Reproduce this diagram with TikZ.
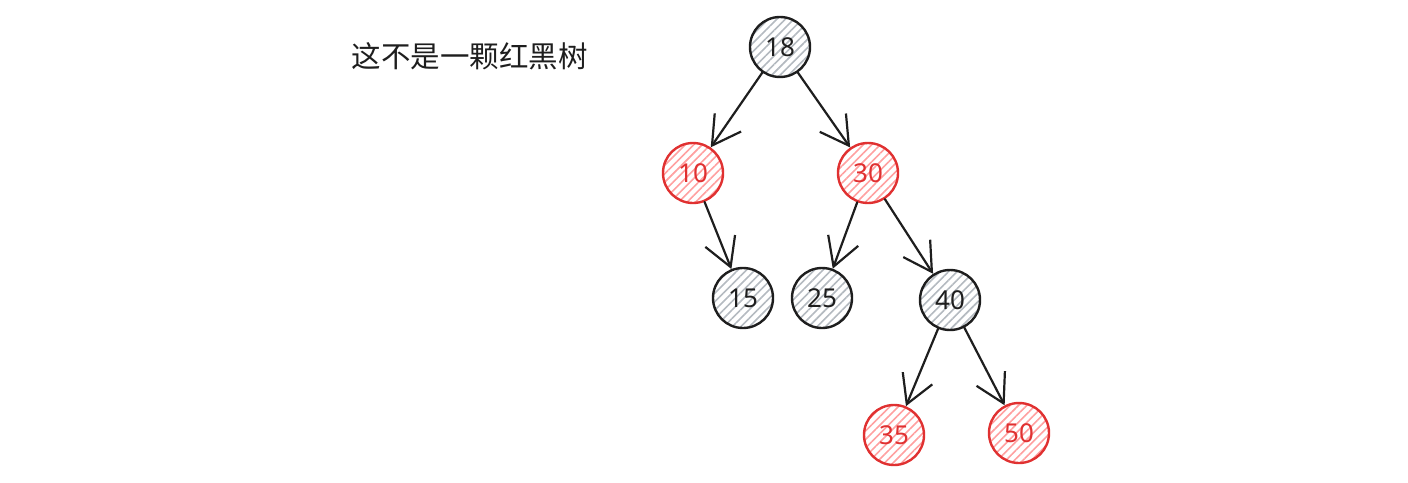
\documentclass[tikz,border=0pt]{standalone}
\usepackage{fontspec}
\setmainfont{Noto Sans}
\newfontfamily\cjk{Noto Sans CJK SC}
\usetikzlibrary{arrows.meta, patterns.meta}
\definecolor{inkblack}{HTML}{1E1E1E}
\definecolor{inkred}{HTML}{E03131}
\definecolor{hatchgray}{HTML}{B4BAC0}
\definecolor{hatchred}{HTML}{FFA0A0}

\tikzset{
  treenode/.style={circle, line width=2.4pt, minimum size=60pt, inner sep=0pt,
    font=\fontsize{26}{26}\selectfont},
  blacknode/.style={treenode, draw=inkblack, text=inkblack,
    pattern={Lines[angle=45,distance=6pt,line width=1.6pt]}, pattern color=hatchgray},
  rednode/.style={treenode, draw=inkred, text=inkred,
    pattern={Lines[angle=45,distance=6pt,line width=1.6pt]}, pattern color=hatchred},
  treeedge/.style={draw=inkblack, line width=2.2pt, line cap=round,
    -{Straight Barb[length=28pt,width=32pt,line width=2.2pt]}}
}

\begin{document}
\begin{tikzpicture}[x=1pt, y=-1pt]
  \useasboundingbox (0,0) rectangle (1408,482);
  \node[anchor=west, text=inkblack, font=\cjk\fontsize{29.5}{29.5}\selectfont] (title) at (348,56) {这不是一颗红黑树};
  % tree nodes
  \node[blacknode] (n18) at (780,47) {18};
  \node[rednode]   (n10) at (693,173) {10};
  \node[rednode]   (n30) at (868,173) {30};
  \node[blacknode] (n15) at (743,298) {15};
  \node[blacknode] (n25) at (822,298) {25};
  \node[blacknode] (n40) at (950,300) {40};
  \node[rednode]   (n35) at (894,435) {35};
  \node[rednode]   (n50) at (1019,433) {50};
  % edges
  \foreach \a/\b in {n18/n10, n18/n30, n10/n15, n30/n25, n30/n40, n40/n35, n40/n50}
    \draw[treeedge] (\a) -- (\b);
\end{tikzpicture}
\end{document}
